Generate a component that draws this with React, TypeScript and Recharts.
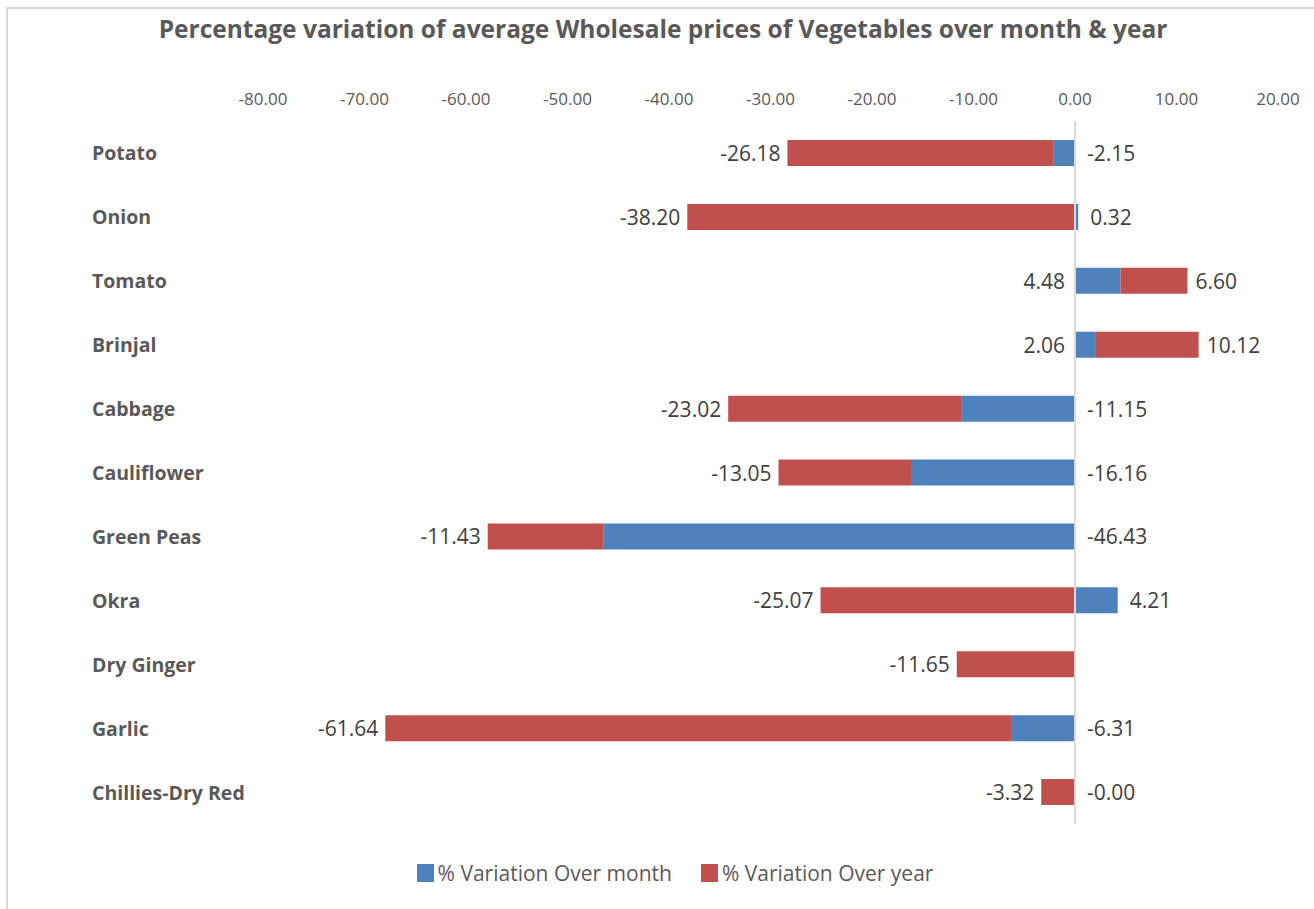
import { BarChart, Bar, XAxis, YAxis, ReferenceLine, Legend, LabelList } from "recharts";

const categories = [
  "Potato",
  "Onion",
  "Tomato",
  "Brinjal",
  "Cabbage",
  "Cauliflower",
  "Green Peas",
  "Okra",
  "Dry Ginger",
  "Garlic",
  "Chillies-Dry Red",
];
const monthValues = [-2.15, 0.32, 4.48, 2.06, -11.15, -16.16, -46.43, 4.21, null, -6.31, -0.004];
const yearValues = [-26.18, -38.2, 6.6, 10.12, -23.02, -13.05, -11.43, -25.07, -11.65, -61.64, -3.32];
const xTicks = [-80, -70, -60, -50, -40, -30, -20, -10, 0, 10, 20];

const data = categories.map((name, i) => ({
  name,
  month: monthValues[i],
  year: yearValues[i],
}));

const FONT = "'Open Sans', sans-serif";
const BLUE = "#4F81BD";
const RED = "#C0504D";

// category names, left aligned like the Excel original
function CategoryTick(props: any) {
  const { y, payload } = props;
  return (
    <text
      x={92}
      y={y}
      dominantBaseline="central"
      textAnchor="start"
      fontFamily={FONT}
      fontWeight="bold"
      fontSize={19.5}
      fill="#595959"
    >
      {payload.value}
    </text>
  );
}

function MonthLabel(props: any) {
  const { x, y, width, height, value, index } = props;
  if (value == null) return null;
  const yr = yearValues[index];
  const zero = x;
  const end = x + width;
  let tx = zero + 12;
  let anchor: "start" | "end" = "start";
  if (value > 0 && yr > 0) {
    tx = zero - 10;
    anchor = "end";
  } else if (value > 0) {
    tx = end + 12;
  }
  return (
    <text
      x={tx}
      y={y + height / 2}
      dominantBaseline="central"
      textAnchor={anchor}
      fontFamily={FONT}
      fontSize={21}
      fill="#404040"
    >
      {Number(value).toFixed(2)}
    </text>
  );
}

function YearLabel(props: any) {
  const { x, y, width, height, value } = props;
  if (value == null) return null;
  const end = x + width;
  const neg = value < 0;
  return (
    <text
      x={neg ? end - 7 : end + 8}
      y={y + height / 2}
      dominantBaseline="central"
      textAnchor={neg ? "end" : "start"}
      fontFamily={FONT}
      fontSize={21}
      fill="#404040"
    >
      {Number(value).toFixed(2)}
    </text>
  );
}

function LegendContent() {
  const items = [
    { label: "% Variation Over month", color: BLUE },
    { label: "% Variation Over year", color: RED },
  ];
  return (
    <div style={{ display: "flex", justifyContent: "center", gap: 29, fontFamily: FONT, fontSize: 21, color: "#595959" }}>
      {items.map((it) => (
        <div key={it.label} style={{ display: "flex", alignItems: "center", gap: 4 }}>
          <span style={{ width: 17, height: 18, background: it.color, display: "inline-block" }} />
          <span>{it.label}</span>
        </div>
      ))}
    </div>
  );
}

export default function App() {
  return (
    <div style={{ position: "absolute", left: 0, top: 0, width: 1314, height: 909, background: "#fff", overflow: "hidden" }}>
      {/* chart frame */}
      <div
        style={{
          position: "absolute",
          left: 6,
          top: 7,
          width: 1310,
          height: 910,
          border: "2px solid #d9d9d9",
          boxSizing: "border-box",
        }}
      />
      <div
        style={{
          position: "absolute",
          top: 12,
          left: 0,
          width: 1314,
          textAlign: "center",
          fontFamily: FONT,
          fontWeight: "bold",
          fontSize: 24.5,
          color: "#595959",
          paddingLeft: 6,
        }}
      >
        Percentage variation of average Wholesale prices of Vegetables over month &amp; year
      </div>
      <div style={{ position: "absolute", left: 0, top: 0 }}>
        <BarChart
          layout="vertical"
          width={1314}
          height={909}
          data={data}
          stackOffset="sign"
          barSize={26}
          margin={{ top: 81, right: 36, bottom: 55, left: 0 }}
        >
          <XAxis
            type="number"
            orientation="top"
            domain={[-80, 20]}
            ticks={xTicks}
            allowDataOverflow
            axisLine={false}
            tickLine={false}
            height={40}
            tickMargin={10}
            tickFormatter={(v) => Number(v).toFixed(2)}
            tick={{ fill: "#595959", fontSize: 17, fontFamily: FONT }}
          />
          <YAxis
            type="category"
            dataKey="name"
            width={263}
            axisLine={false}
            tickLine={false}
            tick={<CategoryTick />}
          />
          <ReferenceLine x={0} stroke="#d9d9d9" strokeWidth={2} />
          <Bar dataKey="month" name="% Variation Over month" stackId="a" fill={BLUE} isAnimationActive={false}>
            <LabelList dataKey="month" content={<MonthLabel />} />
          </Bar>
          <Bar dataKey="year" name="% Variation Over year" stackId="a" fill={RED} isAnimationActive={false}>
            <LabelList dataKey="year" content={<YearLabel />} />
          </Bar>
          <Legend
            content={<LegendContent />}
            wrapperStyle={{ top: 859, left: 18, width: 1314, height: 30 }}
          />
        </BarChart>
      </div>
    </div>
  );
}
